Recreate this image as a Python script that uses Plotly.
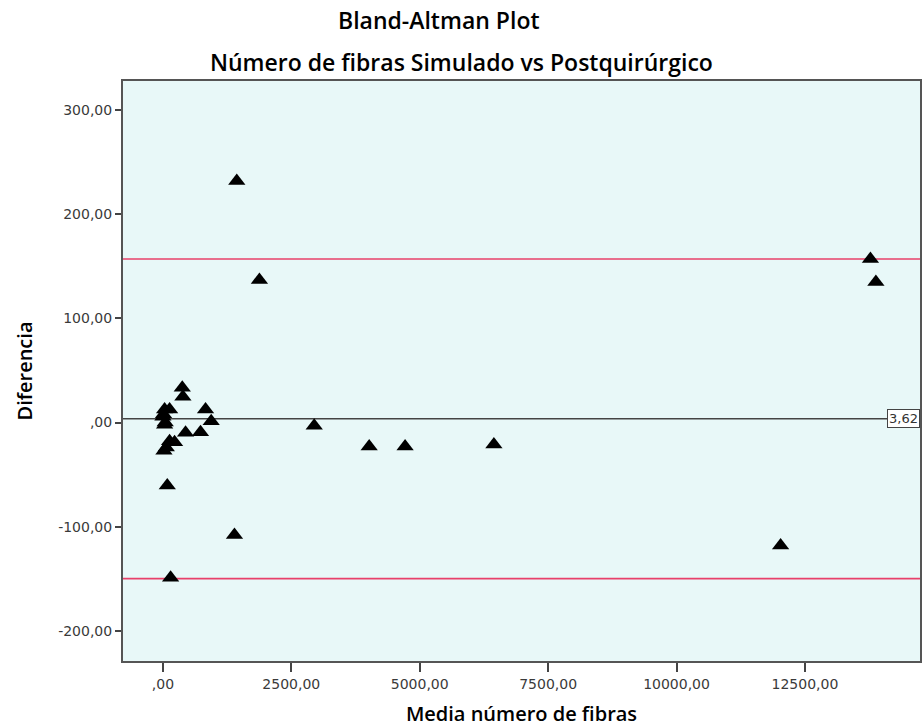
import plotly.graph_objects as go

# Mean of the two measurements (x) and their difference (y) per case
media = [377, 389, 33, 130, 830, 0, 33, 940, 441, 732, 130, 227, 66, 20, 85,
         1393, 150, 12, 45, 2946, 4016, 4715, 6444, 1438, 1879, 13775, 13881, 12026]
diferencia = [33.3, 24.7, 12.5, 12.5, 12.5, 5.5, -2.0, 1.2, -9.9, -9.3, -18.0, -19.0, -24.0, -27.0, -60.5,
              -108.0, -149.0, 8.0, 0.0, -3.0, -23.0, -23.0, -21.0, 232.0, 137.0, 157.0, 135.0, -118.0]

# Mean difference and limits of agreement
media_dif = 3.62
lim_sup = 157.1
lim_inf = -149.9

x_ticks = [0, 2500, 5000, 7500, 10000, 12500]
x_ticktext = [",00", "2500,00", "5000,00", "7500,00", "10000,00", "12500,00"]
y_ticks = [-200, -100, 0, 100, 200, 300]
y_ticktext = ["-200,00", "-100,00", ",00", "100,00", "200,00", "300,00"]

x_range = [-777, 14740]
y_range = [-229, 328]

titulo_1 = "Bland-Altman Plot"
titulo_2 = "Número de fibras Simulado vs Postquirúrgico"

TITLE_FONT = dict(family="Open Sans", size=23, color="black", weight=600)
AXIS_TITLE_FONT = dict(family="Open Sans", size=20, color="black", weight=600)
TICK_FONT = dict(family="DejaVu Sans", size=14, color="#3a3a3a")

fig = go.Figure()

for val, col in [(lim_sup, "#e8406a"), (lim_inf, "#e8406a"), (media_dif, "#444444")]:
    fig.add_trace(go.Scatter(x=x_range, y=[val, val], mode="lines",
                             line=dict(color=col, width=1.6), hoverinfo="skip", showlegend=False))

fig.add_trace(go.Scatter(
    x=media, y=diferencia, mode="markers",
    marker=dict(symbol="triangle-up", size=15, color="black", line=dict(width=0)),
    showlegend=False,
))

fig.add_annotation(
    x=1, xref="paper", y=media_dif, yref="y", xanchor="right", yanchor="middle",
    text="3,62", showarrow=False, bgcolor="white", bordercolor="#444444", borderwidth=1,
    borderpad=1, font=dict(family="DejaVu Sans", size=13, color="#333333"),
)

# Two-line title placed as page-level annotations
fig.add_annotation(x=440, xref="paper", y=20, yref="paper", text=titulo_1,
                   showarrow=False, font=TITLE_FONT, xanchor="center", yanchor="middle")
fig.add_annotation(x=462, xref="paper", y=62, yref="paper", text=titulo_2,
                   showarrow=False, font=TITLE_FONT, xanchor="center", yanchor="middle")

fig.update_layout(
    width=924, height=727,
    margin=dict(l=123, r=2, t=81, b=66),
    paper_bgcolor="white",
    plot_bgcolor="#e8f8f8",
    font=dict(family="DejaVu Sans", color="#333333"),
)

# convert page-pixel title positions into paper coordinates
plot_w = 924 - 123 - 2
plot_h = 727 - 81 - 66
for ann in fig.layout.annotations[1:]:
    ann.x = (ann.x - 123) / plot_w
    ann.y = 1 + (81 - ann.y) / plot_h

fig.update_xaxes(
    range=x_range, tickvals=x_ticks, ticktext=x_ticktext,
    showgrid=False, zeroline=False, showline=True, mirror=True,
    linecolor="#555555", linewidth=2, ticks="outside", ticklen=9, tickwidth=2, tickcolor="#444444",
    tickfont=TICK_FONT,
    title=dict(text="Media número de fibras", standoff=18, font=AXIS_TITLE_FONT),
)
fig.update_yaxes(
    range=y_range, tickvals=y_ticks, ticktext=y_ticktext,
    showgrid=False, zeroline=False, showline=True, mirror=True,
    linecolor="#555555", linewidth=2, ticks="outside", ticklen=6, tickwidth=2, tickcolor="#444444",
    tickfont=TICK_FONT,
    title=dict(text="Diferencia", standoff=20, font=AXIS_TITLE_FONT),
)

fig.write_html("out.html")
